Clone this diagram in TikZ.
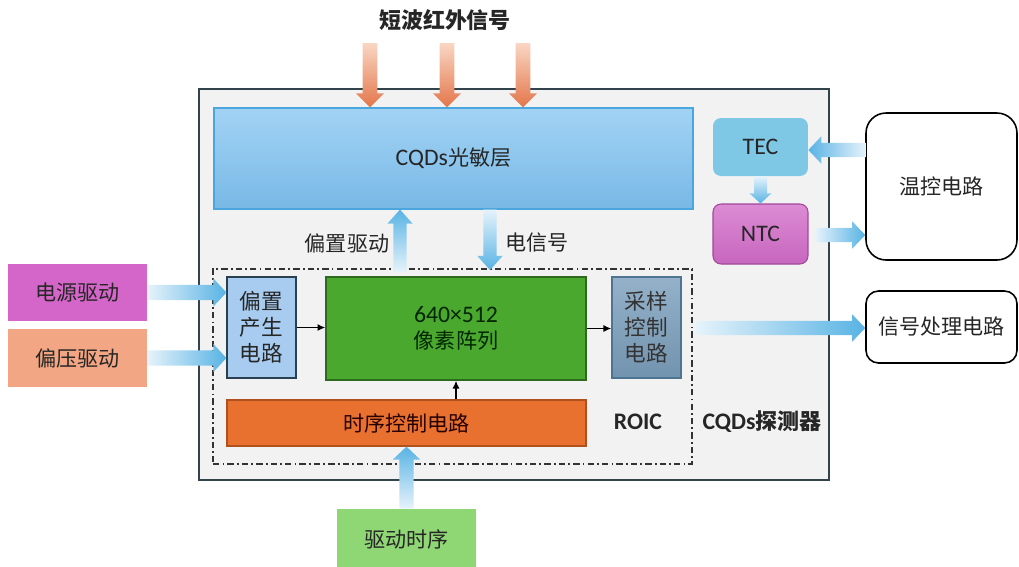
\documentclass[tikz,border=0pt]{standalone}
\usepackage{fontspec}
\setmainfont{Noto Sans CJK SC}
\newfontfamily\latfont{Carlito}
\newcommand\LT[1]{{\latfont\fontsize{13.5pt}{15pt}\selectfont #1}}
\usetikzlibrary{calc,arrows.meta}
\definecolor{txt}{HTML}{262626}
\definecolor{bgbox}{HTML}{F2F2F2}
\definecolor{bdbox}{HTML}{33434B}
\definecolor{arrblue}{HTML}{58B3E4}
\definecolor{arrpale}{HTML}{E6F3FB}
\definecolor{orA}{HTML}{F9D6C4}
\definecolor{orB}{HTML}{E4764A}
\definecolor{cqdA}{HTML}{A2D3F4}
\definecolor{cqdB}{HTML}{78B8E6}
\definecolor{cqdD}{HTML}{4BA6DE}
\definecolor{biasF}{HTML}{A8CCEF}
\definecolor{biasD}{HTML}{28404F}
\definecolor{pixF}{HTML}{4BA82F}
\definecolor{pixD}{HTML}{2E6A1D}
\definecolor{sampA}{HTML}{94B1C9}
\definecolor{sampB}{HTML}{7293AE}
\definecolor{sampD}{HTML}{4D7490}
\definecolor{timF}{HTML}{E8712F}
\definecolor{timD}{HTML}{B0501C}
\definecolor{tecF}{HTML}{7EC8E6}
\definecolor{ntcA}{HTML}{DC8BD4}
\definecolor{ntcB}{HTML}{C766BE}
\definecolor{ntcD}{HTML}{A0489A}
\definecolor{pwrF}{HTML}{D566C9}
\definecolor{vbF}{HTML}{F2A683}
\definecolor{drvF}{HTML}{8FD674}
\newcommand\setarr[3]{\def\ArSw{#1}\def\ArHw{#2}\def\ArHl{#3}}
\newcommand\arrD[3]{\shade[#3] let \p1=(#1),\p2=(#2) in
  (\x1-\ArSw,\y1) -- (\x1+\ArSw,\y1) -- (\x1+\ArSw,\y2+\ArHl) -- (\x1+\ArHw,\y2+\ArHl)
  -- (\x1,\y2) -- (\x1-\ArHw,\y2+\ArHl) -- (\x1-\ArSw,\y2+\ArHl) -- cycle;}
\newcommand\arrU[3]{\shade[#3] let \p1=(#1),\p2=(#2) in
  (\x1-\ArSw,\y1) -- (\x1+\ArSw,\y1) -- (\x1+\ArSw,\y2-\ArHl) -- (\x1+\ArHw,\y2-\ArHl)
  -- (\x1,\y2) -- (\x1-\ArHw,\y2-\ArHl) -- (\x1-\ArSw,\y2-\ArHl) -- cycle;}
\newcommand\arrR[3]{\shade[#3] let \p1=(#1),\p2=(#2) in
  (\x1,\y1-\ArSw) -- (\x1,\y1+\ArSw) -- (\x2-\ArHl,\y1+\ArSw) -- (\x2-\ArHl,\y1+\ArHw)
  -- (\x2,\y1) -- (\x2-\ArHl,\y1-\ArHw) -- (\x2-\ArHl,\y1-\ArSw) -- cycle;}
\newcommand\arrL[3]{\shade[#3] let \p1=(#1),\p2=(#2) in
  (\x1,\y1-\ArSw) -- (\x1,\y1+\ArSw) -- (\x2+\ArHl,\y1+\ArSw) -- (\x2+\ArHl,\y1+\ArHw)
  -- (\x2,\y1) -- (\x2+\ArHl,\y1-\ArHw) -- (\x2+\ArHl,\y1-\ArSw) -- cycle;}
\tikzset{
  blk/.style={rectangle, inner sep=0pt, align=center},
  lbl/.style={inner sep=1pt},
  bolded/.style={font=\fontsize{12.5pt}{15pt}\selectfont\bfseries},
  thinarr/.style={draw=black, line width=0.9pt, -{Latex[length=4.5pt,width=4pt]}},
  fadeD/.style={top color=arrpale, bottom color=arrblue},
  fadeU/.style={top color=arrblue, bottom color=arrpale},
  fadeR/.style={left color=arrpale, right color=arrblue},
  fadeL/.style={left color=arrblue, right color=arrpale},
}
\begin{document}
\begin{tikzpicture}[x=0.02cm, y=-0.02cm, font=\fontsize{12pt}{14.8pt}\selectfont, text=txt]
\useasboundingbox (0,0) rectangle (1019,566);
% outer detector box
\node[blk, draw=bdbox, fill=bgbox, line width=0.9pt, minimum width=12.6cm, minimum height=7.82cm] (det) at (514,284.5) {};
% ROIC dash-dot box
\node[blk, draw=black!80, line width=0.7pt, dash pattern=on 3.6pt off 1.8pt on 1pt off 1.8pt,
  minimum width=9.58cm, minimum height=3.9cm] (roic) at (452.5,366.5) {};
% photosensitive layer
\node[blk, draw=cqdD, line width=0.7pt, top color=cqdA, bottom color=cqdB,
  minimum width=9.58cm, minimum height=2.02cm] (cqd) at (453.5,158.5) {\LT{CQDs}光敏层};
% inner blocks
\node[blk, draw=biasD, line width=0.7pt, fill=biasF, minimum width=1.38cm, minimum height=2.02cm,
  font=\fontsize{12.3pt}{14.8pt}\selectfont] (bias) at (261.5,327.5) {偏置\\产生\\电路};
\node[blk, draw=pixD, line width=0.7pt, fill=pixF, minimum width=5.2cm, minimum height=2.06cm,
  text=black!85!green] (pix) at (456,328.5) {\LT{640×512}\\像素阵列};
\node[blk, draw=sampD, line width=0.7pt, top color=sampA, bottom color=sampB, minimum width=1.38cm,
  minimum height=2.02cm, text=black!80, font=\fontsize{12.3pt}{14.8pt}\selectfont] (samp) at (646.5,327.5) {采样\\控制\\电路};
\node[blk, draw=timD, line width=0.7pt, fill=timF, minimum width=7.18cm, minimum height=0.92cm,
  text=black!85!red] (timing) at (406.5,423) {时序控制电路};
\node[lbl, bolded] (lroic) at (638,422) {\LT{ROIC}};
\node[lbl, bolded] (ldet) at (762,422) {\LT{CQDs}探测器};
% TEC / NTC
\node[blk, fill=tecF, rounded corners=0.16cm, minimum width=1.9cm, minimum height=1.16cm] (tec) at (760.5,147) {\LT{TEC}};
\node[blk, draw=ntcD, line width=0.6pt, top color=ntcA, bottom color=ntcB, rounded corners=0.16cm,
  minimum width=1.9cm, minimum height=1.2cm] (ntc) at (760.5,234) {\LT{NTC}};
% external boxes
\node[blk, draw=black, line width=0.9pt, fill=white, rounded corners=0.4cm, minimum width=3.02cm,
  minimum height=2.94cm] (temp) at (941.5,186.5) {温控电路};
\node[blk, draw=black, line width=0.9pt, fill=white, rounded corners=0.25cm, minimum width=3.02cm,
  minimum height=1.44cm] (sig) at (941.5,327) {信号处理电路};
\node[blk, fill=pwrF, minimum width=2.78cm, minimum height=1.14cm] (pwr) at (77.5,292.5) {电源驱动};
\node[blk, fill=vbF, minimum width=2.78cm, minimum height=1.16cm] (vb) at (77.5,358) {偏压驱动};
\node[blk, fill=drvF, minimum width=2.78cm, minimum height=1.2cm] (drv) at (406.5,539) {驱动时序};
% labels
\node[lbl, bolded] (title) at (445,20) {短波红外信号};
\node[lbl] (lbd) at (347,243) {偏置驱动};
\node[lbl] (les) at (537,243) {电信号};
% thin black connectors
\draw[thinarr] (bias.east) -- (bias.east -| pix.west);
\draw[thinarr] (pix.east) -- (pix.east -| samp.west);
\draw[thinarr] (pix.south |- timing.north) -- (pix.south);
% coordinates for block arrows
\coordinate (ir1) at (370,43);
\coordinate (ir2) at (447,43);
\coordinate (ir3) at (523,43);
\coordinate (bdT) at (400,272);
\coordinate (esT) at (490,270);
\coordinate (ssT) at (696,328);
\coordinate (tcT) at (866,150);
\coordinate (ntT) at (815,235);
% orange infrared arrows
\setarr{4.25pt}{8pt}{8pt}
\arrD{ir1}{ir1 |- cqd.north}{top color=orA, bottom color=orB}
\arrD{ir2}{ir2 |- cqd.north}{top color=orA, bottom color=orB}
\arrD{ir3}{ir3 |- cqd.north}{top color=orA, bottom color=orB}
% blue block arrows
\setarr{3.8pt}{7.2pt}{8pt}
\arrU{bdT}{bdT |- cqd.south}{fadeU}
\arrD{esT |- cqd.south}{esT}{fadeD}
\setarr{4.3pt}{8pt}{7.4pt}
\arrR{pwr.east}{pwr.east -| bias.west}{fadeR}
\arrR{vb.east}{vb.east -| bias.west}{fadeR}
\setarr{4pt}{7.8pt}{7.4pt}
\arrU{drv.north}{drv.north |- timing.south}{fadeU}
\arrR{ssT}{ssT -| sig.west}{fadeR}
\arrL{tcT}{tcT -| tec.east}{fadeL}
\arrR{ntT}{ntT -| temp.west}{fadeR}
\setarr{3.7pt}{6.3pt}{5.8pt}
\arrD{tec.south}{ntc.north}{fadeD}
\end{tikzpicture}
\end{document}
